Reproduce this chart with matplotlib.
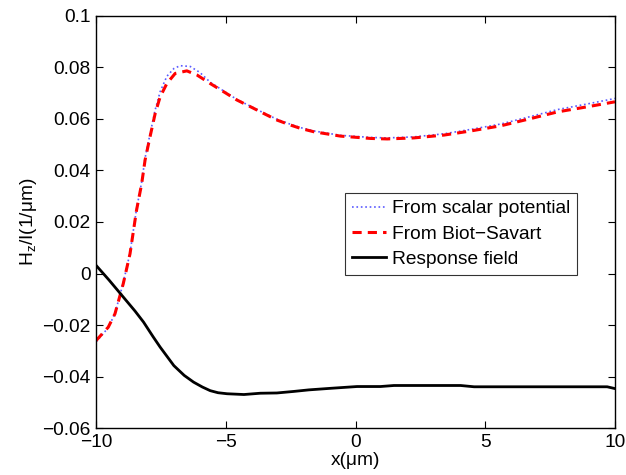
import matplotlib
matplotlib.use("Agg")
import matplotlib.pyplot as plt

# values
x_scalar = [-10, -9.53, -9.27, -8.95, -8.69, -8.44, -8.24, -8.11, -7.92, -7.72, -7.53, -7.27,
            -7.0, -6.76, -6.37, -6.0, -5.6, -5.08, -4.57, -4.05, -3.54, -3.02, -2.51, -2.12,
            -1.61, -0.58, 0.58, 1.22, 2.25, 3.41, 4.44, 5.6, 6.63, 7.79, 8.95, 10]
h_scalar = [-0.0265, -0.021, -0.0155, -0.0035, 0.008, 0.025, 0.0355, 0.0448, 0.054, 0.0635,
            0.0705, 0.0765, 0.0795, 0.0806, 0.0803, 0.0780, 0.0742, 0.0708, 0.0675, 0.0649,
            0.0623, 0.0598, 0.0579, 0.0566, 0.0553, 0.0536, 0.0528, 0.0526, 0.0530, 0.0542,
            0.0559, 0.0580, 0.0606, 0.0636, 0.0658, 0.0679]

x_biot = [-10, -9.53, -9.27, -8.95, -8.69, -8.44, -8.24, -8.11, -7.92, -7.72, -7.53, -7.27,
          -6.95, -6.5, -6.11, -5.6, -5.08, -4.57, -4.05, -3.54, -3.02, -2.51, -2.12, -1.61,
          -0.58, 0.58, 1.22, 2.25, 3.41, 4.44, 5.6, 6.63, 7.79, 8.95, 10]
h_biot = [-0.026, -0.0208, -0.0156, -0.0039, 0.0077, 0.0245, 0.0349, 0.044, 0.053, 0.0621,
          0.0685, 0.0737, 0.0776, 0.0786, 0.0770, 0.0737, 0.0705, 0.0673, 0.0647, 0.0621,
          0.0595, 0.0576, 0.0563, 0.0550, 0.0533, 0.0524, 0.0522, 0.0526, 0.0537, 0.0553,
          0.0573, 0.0598, 0.0627, 0.0647, 0.0666]

x_resp = [-10, -9.5, -8.95, -8.5, -8.17, -7.8, -7.53, -7.0, -6.6, -6.24, -5.9, -5.6, -5.3,
          -4.95, -4.3, -3.67, -3.03, -2.38, -1.8, -0.97, 0.06, 0.96, 1.48, 4.05, 4.57, 9.7, 10]
h_resp = [0.0032, -0.0025, -0.0091, -0.0145, -0.0188, -0.0245, -0.0285, -0.0357, -0.0395,
          -0.0421, -0.0440, -0.0454, -0.0462, -0.0466, -0.0469, -0.0464, -0.0463, -0.0457,
          -0.0451, -0.0445, -0.0438, -0.0438, -0.0434, -0.0434, -0.0439, -0.0439, -0.0446]

x_ticks = [-10, -5, 0, 5, 10]
y_ticks = [-0.06, -0.04, -0.02, 0, 0.02, 0.04, 0.06, 0.08, 0.1]
y_tick_labels = ["\u22120.06", "\u22120.04", "\u22120.02", "0", "0.02", "0.04", "0.06", "0.08", "0.1"]
x_tick_labels = ["\u221210", "\u22125", "0", "5", "10"]

plt.rcParams["font.family"] = ["Liberation Sans", "DejaVu Sans"]
plt.rcParams["font.size"] = 13.8

fig = plt.figure(figsize=(6.26, 4.75), dpi=100)
ax = fig.add_axes([0.1534, 0.0983, 0.8290, 0.8687])

ax.plot(x_scalar, h_scalar, ":", color="#5a5aff", lw=1.2, label="From scalar potential")
ax.plot(x_biot, h_biot, "--", color="red", lw=2.2, dashes=(3, 2), label="From Biot\u2212Savart")
ax.plot(x_resp, h_resp, "-", color="black", lw=2.0, label="Response field")

ax.set_xlim(-10, 10)
ax.set_ylim(-0.06, 0.1)
ax.set_xticks(x_ticks)
ax.set_xticklabels(x_tick_labels)
ax.set_yticks(y_ticks)
ax.set_yticklabels(y_tick_labels)
ax.tick_params(direction="in", length=5, width=0.8, top=True, right=True, pad=4)
for sp in ax.spines.values():
    sp.set_linewidth(1.0)

ax.set_xlabel("x(\u03bcm)", labelpad=1)
ax.set_ylabel("H$_\\mathregular{z}$/I(1/\u03bcm)", labelpad=2)

leg = ax.legend(loc="upper left", bbox_to_anchor=(0.48, 0.57), frameon=True, fancybox=False,
                edgecolor="black", handlelength=1.8, handletextpad=0.3, labelspacing=0.42,
                borderpad=0.35, borderaxespad=0)
leg.get_frame().set_linewidth(0.8)

fig.savefig("out.png", dpi=100)
